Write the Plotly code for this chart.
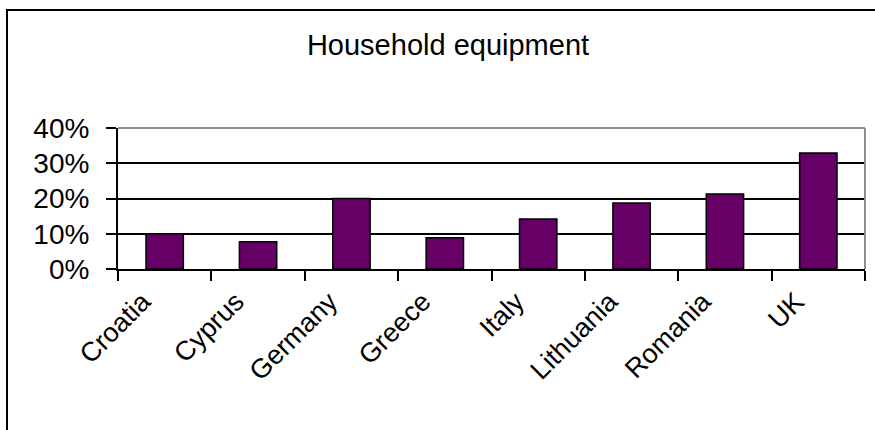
import plotly.graph_objects as go

# Share of households citing household equipment, by country
countries = ["Croatia", "Cyprus", "Germany", "Greece", "Italy", "Lithuania", "Romania", "UK"]
shares = [0.100, 0.077, 0.200, 0.089, 0.142, 0.187, 0.213, 0.329]
y_ticks = [0, 0.1, 0.2, 0.3, 0.4]
y_tick_text = ["0%", "10%", "20%", "30%", "40%"]
title_text = "Household equipment"

W, H = 875, 430
L, R, T, B = 118, 10, 128, 161
plot_w = W - L - R
plot_h = H - T - B

font = dict(family="Liberation Sans, Arial, sans-serif", color="black")

fig = go.Figure(
    go.Bar(
        x=countries,
        y=shares,
        marker=dict(color="#660066", line=dict(color="black", width=1.5)),
        hoverinfo="x+y",
    )
)

# outer chart frame (runs off the right and bottom edges)
fx0 = (7 - L) / plot_w
fy1 = (H - B - 10) / plot_h
fig.add_shape(type="rect", xref="paper", yref="paper",
              x0=fx0, x1=1.2, y0=-1.5, y1=fy1,
              line=dict(color="black", width=2), layer="below")

# grey plot-area border on top and right
fig.add_shape(type="line", xref="paper", yref="paper", x0=0, x1=1, y0=1, y1=1,
              line=dict(color="#909090", width=2))
fig.add_shape(type="line", xref="paper", yref="paper", x0=1, x1=1, y0=0, y1=1,
              line=dict(color="#909090", width=2))

fig.update_layout(
    width=W, height=H,
    margin=dict(l=L, r=R, t=T, b=B, pad=0),
    paper_bgcolor="white", plot_bgcolor="white",
    bargap=0.6,
    showlegend=False,
    font=dict(size=24, **font),
    title=dict(text=title_text, xref="container", yref="container",
               x=448 / W, xanchor="center", y=1 - 45 / H, yanchor="middle",
               font=dict(size=29, **font)),
)

fig.update_xaxes(
    type="category",
    showline=True, linecolor="black", linewidth=2,
    ticks="outside", tickson="boundaries", ticklen=10, tickwidth=2, tickcolor="black",
    tickangle=-45, tickfont=dict(size=27, **font),
    ticklabelstandoff=4, ticklabelshift=-22,
    showgrid=False, zeroline=False,
)
fig.update_yaxes(
    range=[0, 0.4], tickvals=y_ticks, ticktext=y_tick_text,
    showline=True, linecolor="black", linewidth=2,
    ticks="outside", ticklen=10, tickwidth=2, tickcolor="black",
    tickfont=dict(size=28, **font), ticklabelstandoff=11,
    showgrid=True, gridcolor="black", gridwidth=1.5,
    zeroline=False,
)

fig.write_html("out.html")
